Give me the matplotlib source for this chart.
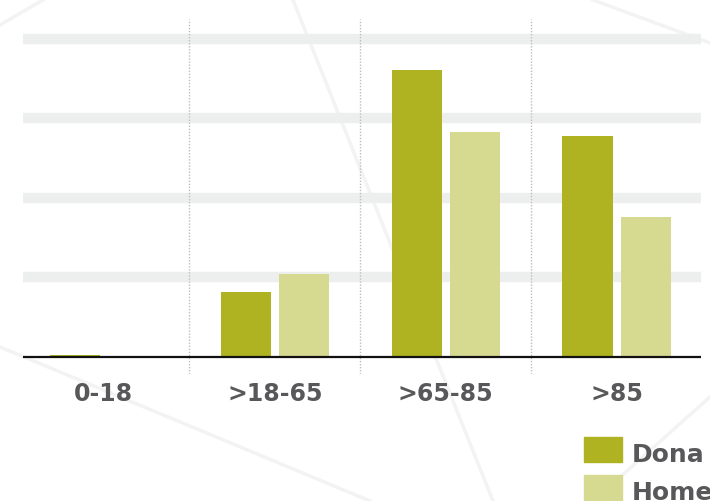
import numpy as np
import matplotlib.pyplot as plt
from matplotlib.lines import Line2D
from matplotlib.patches import Rectangle

# Data (gridlines every 10)
groups = ['0-18', '>18-65', '>65-85', '>85']
series = ['Dona', 'Home']
dona = [0.3, 8.2, 36.1, 27.8]
home = [0.0, 10.4, 28.3, 17.6]
grid_vals = [10, 20, 30, 40]

c_dona = '#afb322'
c_home = '#d6d990'
c_text = '#58585a'

W, H = 710, 501
fig = plt.figure(figsize=(W / 100, H / 100), dpi=100)

# faint decorative background lines
def px(x, y):
    return x / W, 1 - y / H

for (x0, y0), (x1, y1) in [((0, 25), (43, 0)), ((293, 0), (493, 501)),
                           ((593, 0), (710, 43)), ((0, 347), (370, 501)),
                           ((710, 397), (600, 495))]:
    a, b = px(x0, y0)
    c, d = px(x1, y1)
    fig.add_artist(Line2D([a, c], [b, d], color='#f3f3f3', lw=2.5, zorder=0))

ax = fig.add_axes([23 / W, 1 - 374 / H, (701 - 23) / W, (374 - 19) / H])
ax.patch.set_alpha(0)

x = np.arange(len(groups))
bw = 0.293
off = 0.17
ax.bar(x - off, dona, bw, color=c_dona, zorder=3)
ax.bar(x + off, home, bw, color=c_home, zorder=3)

for g in grid_vals:
    ax.axhline(g, color='#edefee', lw=7.5, zorder=1)
ax.axhline(0, color='#111111', lw=1.6, zorder=4)

for s in x[:-1] + 0.5:
    ax.axvline(s, color='#bdbdbd', lw=1, ls=(0, (1, 1.2)), zorder=2)

ax.set_xlim(-0.473, 3.494)
ax.set_ylim(-2.14, 42.5)
ax.set_yticks([])
ax.set_xticks(x)
ax.set_xticklabels(groups, fontsize=17, fontweight='bold', color=c_text)
ax.tick_params(axis='x', length=0, pad=6)
for sp in ax.spines.values():
    sp.set_visible(False)

# legend at bottom right, partly cut by the figure edge
for i, (name, col) in enumerate(zip(series, [c_dona, c_home])):
    y_top = 437 + i * 38
    a, b = px(584, y_top + 25)
    fig.add_artist(Rectangle((a, b), 38 / W, 25 / H, transform=fig.transFigure,
                             color=col))
    tx, ty = px(632, y_top + 25)
    fig.text(tx, ty, name, fontsize=18, fontweight='bold', color=c_text,
             va='baseline', ha='left')

plt.savefig('out.png', dpi=100)
